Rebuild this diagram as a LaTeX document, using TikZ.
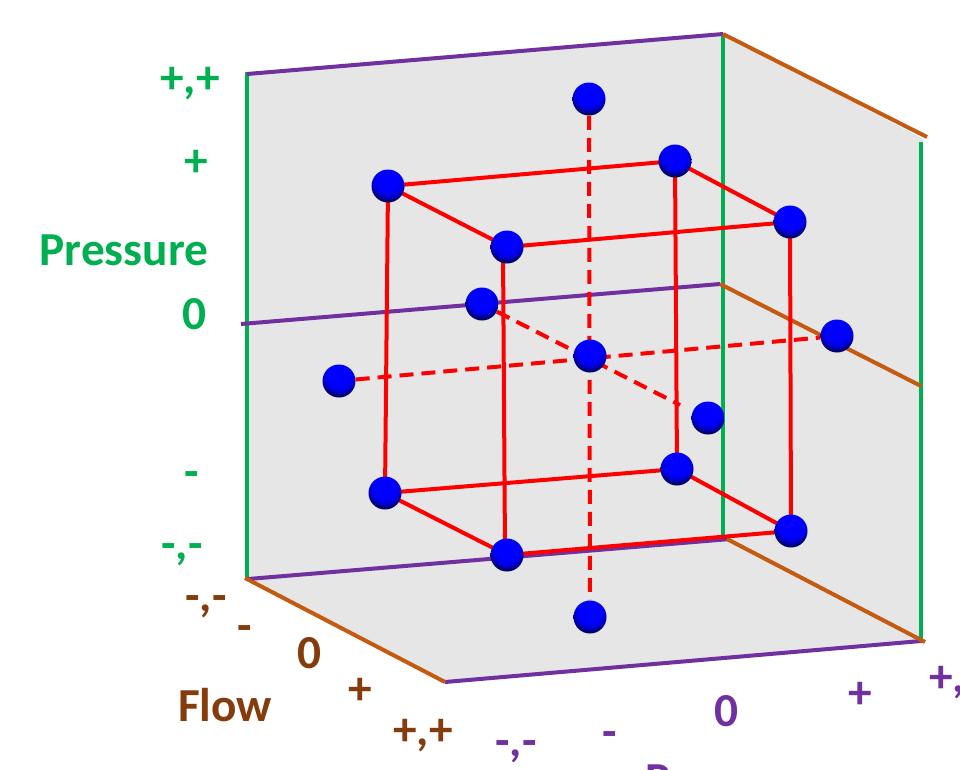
\documentclass[tikz,border=0pt]{standalone}
\usepackage{fontspec}
\setmainfont{Carlito}
\usepackage{xcolor}
\usetikzlibrary{backgrounds}
\definecolor{axgreen}{HTML}{00B050}
\definecolor{axbrown}{HTML}{843C0C}
\definecolor{axpurple}{HTML}{7030A0}
\definecolor{axorange}{HTML}{C55A11}
\definecolor{wallgrey}{HTML}{E6E6E6}
\pgfdeclareradialshading{bluesphere}{\pgfpoint{0bp}{14bp}}{
  color(0bp)=(blue); color(17bp)=(blue); color(23bp)=(blue!85!black);
  color(30bp)=(blue!30!black); color(50bp)=(blue!30!black)}
\begin{document}
\begin{tikzpicture}[
        x=0.75pt, y=-0.75pt,
        ball/.style={circle, minimum size=33*0.75pt, inner sep=0pt, shading=bluesphere},
        edge/.style={red, line width=4*0.75pt},
        dashedge/.style={edge, dash pattern=on 10.5pt off 6pt},
        greenax/.style={axgreen, line width=4*0.75pt},
        purpleax/.style={axpurple, line width=4*0.75pt},
        orangeax/.style={axorange, line width=4*0.75pt},
        lab/.style={font=\fontsize{35.5}{35.5}\selectfont\bfseries, inner sep=0pt},
        tick/.style={lab}
    ]
    \useasboundingbox (0,0) rectangle (960,769);
    \clip (0,0) rectangle (960,769);
    % cube corners
    \node[ball] (btl) at (388,186) {};
    \node[ball] (btr) at (675,161) {};
    \node[ball] (ftl) at (507,247) {};
    \node[ball] (ftr) at (790,222) {};
    \node[ball] (bbl) at (385,493) {};
    \node[ball] (bbr) at (677,469) {};
    \node[ball] (fbl) at (507,555) {};
    \node[ball] (fbr) at (791,531) {};
    % star points
    \node[ball] (top) at (589,99) {};
    \node[ball] (bot) at (590,617) {};
    \node[ball] (mid) at (590,356) {};
    \node[ball] (lft) at (339,381) {};
    \node[ball] (rgt) at (837,336) {};
    \node[ball] (bck) at (482,304) {};
    \node[ball] (frt) at (708,418) {};
    \coordinate (frtend) at (680,405);
    \coordinate (ftlv) at (503,250);
    \coordinate (fblv) at (505,552);
    % box corners
    \coordinate (wtl) at (247,74);
    \coordinate (wtr) at (723,34);
    \coordinate (wbl) at (247,578);
    \coordinate (wbr) at (723,540);
    \coordinate (stl) at (923,139);
    \coordinate (sbl) at (921,641);
    \coordinate (ffl) at (445,682);
    \coordinate (wml) at (241,324);
    \coordinate (wmr) at (720,284);
    \coordinate (sml) at (921,386);
    \begin{scope}[on background layer]
        \fill[wallgrey] (wtl) -- (wtr) -- (stl) -- (sbl) -- (ffl) -- (wbl) -- cycle;
        % axes
        \draw[greenax] (247,72) -- (wbl);
        \draw[greenax] (wtr) -- (723,536);
        \draw[greenax] (921,142) -- (921,643);
        \draw[purpleax] (wtl) -- (wtr);
        \draw[purpleax] (wml) -- (wmr);
        \draw[purpleax] (248,579) -- (730,539);
        \draw[purpleax] (ffl) -- (sbl);
        \draw[orangeax] (wtr) -- (927,137);
        \draw[orangeax] (wmr) -- (sml);
        \draw[orangeax] (727,539) -- (925,642);
        \draw[orangeax] (245,578) -- (ffl);
        % cube
        \draw[edge] (btl.center) -- (btr.center) -- (ftr.center) -- (ftl.center) -- cycle;
        \draw[edge] (bbl.center) -- (bbr.center) -- (fbr.center) -- (fbl.center) -- cycle;
        \draw[edge] (btl.center) -- (bbl.center);
        \draw[edge] (btr.center) -- (bbr.center);
        \draw[edge] (ftlv) -- (fblv);
        \draw[edge] (ftr.center) -- (fbr.center);
        % star
        \draw[dashedge] (top) -- (bot);
        \draw[dashedge] (lft) -- (rgt);
        \draw[dashedge] (bck) -- (frtend);
    \end{scope}
    % pressure labels
    \node[lab, text=axgreen] (plab) at (124,250) {Pressure};
    \node[tick, text=axgreen] (p1) at (190,84) {+,+};
    \node[tick, text=axgreen] (p2) at (196,163) {+};
    \node[lab, text=axgreen] (p3) at (194,314) {0};
    \node[tick, text=axgreen] (p4) at (192,480) {-};
    \node[tick, text=axgreen] (p5) at (182,555) {-,-};
    % flow labels
    \node[lab, text=axbrown] (flab) at (225,705) {Flow};
    \node[tick, text=axbrown] (f1) at (206,607) {-,-};
    \node[tick, text=axbrown] (f2) at (245,634) {-};
    \node[lab, text=axbrown] (f3) at (309,653) {0};
    \node[tick, text=axbrown] (f4) at (360,691) {+};
    \node[tick, text=axbrown] (f5) at (423,736) {+,+};
    % third axis labels
    \node[tick, text=axpurple] (d1) at (516,752) {-,-};
    \node[tick, text=axpurple] (d2) at (610,740) {-};
    \node[lab, text=axpurple] (d3) at (726,711) {0};
    \node[tick, text=axpurple] (d4) at (860,695) {+};
    \node[tick, text=axpurple, anchor=west] (d5) at (929,683) {+,+};
    \node[lab, text=axpurple, anchor=base west] (dlab) at (645,795) {Power};
\end{tikzpicture}
\end{document}
